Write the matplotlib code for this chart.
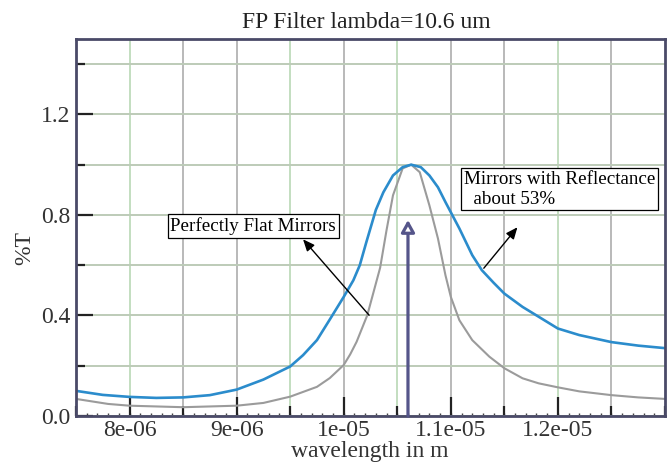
import numpy as np
import matplotlib
matplotlib.use('Agg')
import matplotlib.pyplot as plt
from matplotlib.ticker import FixedLocator, MultipleLocator

plt.rcParams['font.family'] = ['Liberation Serif', 'DejaVu Serif']

# values (wavelength in um, transmission)
wl_blue_um = [7.5, 7.75, 8.0, 8.25, 8.5, 8.75, 9.0, 9.25, 9.5, 9.62, 9.75, 9.87,
              10.0, 10.09, 10.15, 10.21, 10.3, 10.37, 10.46, 10.55, 10.63, 10.72,
              10.8, 10.88, 10.95, 11.08, 11.2, 11.29, 11.4, 11.5, 11.67, 11.82,
              12.0, 12.2, 12.5, 12.75, 13.0]
t_blue = [0.100, 0.084, 0.076, 0.072, 0.074, 0.083, 0.105, 0.145, 0.197, 0.242,
          0.302, 0.384, 0.474, 0.540, 0.600, 0.690, 0.820, 0.890, 0.957, 0.990,
          1.000, 0.990, 0.957, 0.910, 0.851, 0.746, 0.640, 0.580, 0.530, 0.487,
          0.434, 0.395, 0.348, 0.322, 0.294, 0.280, 0.270]

wl_gray_um = [7.5, 7.8, 8.0, 8.5, 9.0, 9.25, 9.5, 9.75, 9.87, 10.0, 10.06, 10.12,
              10.22, 10.34, 10.4, 10.46, 10.55, 10.63, 10.71, 10.8, 10.88, 10.95,
              11.0, 11.08, 11.2, 11.36, 11.5, 11.67, 11.82, 12.0, 12.2, 12.5,
              12.75, 13.0]
t_gray = [0.068, 0.048, 0.041, 0.035, 0.041, 0.052, 0.077, 0.116, 0.151, 0.203,
          0.245, 0.295, 0.401, 0.590, 0.740, 0.878, 0.985, 1.000, 0.970, 0.838,
          0.706, 0.560, 0.474, 0.381, 0.302, 0.236, 0.190, 0.150, 0.130, 0.114,
          0.098, 0.083, 0.074, 0.068]

x_ticks = [8e-6, 9e-6, 1e-5, 1.1e-5, 1.2e-5]
x_ticklabels = ['8e-06', '9e-06', '1e-05', '1.1e-05', '1.2e-05']
y_ticks = [0.0, 0.4, 0.8, 1.2]
y_ticklabels = ['0.0', '0.4', '0.8', '1.2']

center_um = 10.6
center_T = 0.78

um = 1e-6
fig = plt.figure(figsize=(6.7, 4.68), dpi=100)
ax = fig.add_axes([76 / 670, 52 / 468, 589 / 670, 377 / 468])

ax.set_xlim(7.5 * um, 13.0 * um)
ax.set_ylim(0, 1.5)

# grid: vertical lines every 0.5 um, some look green, others grey
green_x = [8.0, 9.5, 10.5, 12.0]
for g in np.arange(8.0, 13.0, 0.5):
    col = '#c3dec0' if g in green_x else '#b9b9b9'
    ax.axvline(g * um, color=col, lw=1.4, zorder=0.5)
ax.grid(axis='y', which='both', color='#bdcbb8', lw=1.4, zorder=0.5)

ax.plot(np.array(wl_gray_um) * um, t_gray, color='#9b9b9b', lw=1.5, zorder=2)
ax.plot(np.array(wl_blue_um) * um, t_blue, color='#2b8ccc', lw=1.9, zorder=2)

# vertical marker at the design wavelength
ax.annotate('', xy=(center_um * um, center_T), xytext=(center_um * um, 0),
            arrowprops=dict(arrowstyle='-|>,head_length=0.36,head_width=0.2',
                            mutation_scale=20, lw=2.3, ec='#55558a', fc='white',
                            shrinkA=0, shrinkB=0), zorder=3)

box = dict(boxstyle='square,pad=0.15', fc='white', ec='black', lw=0.9)
ax.text(8.382 * um, 0.757, 'Perfectly Flat Mirrors', fontsize=13.7,
        ha='left', va='center', bbox=box, zorder=4)
ax.text(11.124 * um, 0.902, 'Mirrors with Reflectance\n  about 53%', fontsize=13.7,
        ha='left', va='center', bbox=box, zorder=4)

arr = dict(arrowstyle='-|>,head_length=0.7,head_width=0.3', mutation_scale=10,
           lw=1.0, color='black', shrinkA=0, shrinkB=0)
ax.annotate('', xy=(9.62 * um, 0.703), xytext=(10.237 * um, 0.401),
            arrowprops=arr, zorder=3)
ax.annotate('', xy=(11.622 * um, 0.751), xytext=(11.308 * um, 0.588),
            arrowprops=arr, zorder=3)

ax.xaxis.set_major_locator(FixedLocator(x_ticks))
ax.set_xticklabels(x_ticklabels)
ax.xaxis.set_minor_locator(MultipleLocator(0.5 * um))
ax.yaxis.set_major_locator(FixedLocator(y_ticks))
ax.set_yticklabels(y_ticklabels)
ax.yaxis.set_minor_locator(MultipleLocator(0.2))

ax.tick_params(which='both', direction='in', color='#222222', width=1.6,
               labelsize=17, labelcolor='#333333')
ax.tick_params(axis='x', which='major', length=13.5, pad=3)
ax.tick_params(axis='x', which='minor', length=7)
ax.tick_params(axis='y', which='major', length=12.5, pad=4)
ax.tick_params(axis='y', which='minor', length=6.5)

# tiny ticks every 0.1 um along the bottom
sec = ax.secondary_xaxis('bottom')
sec.set_xticks(np.arange(7.6, 13.0, 0.1) * um)
sec.tick_params(direction='in', length=2, width=1, color='#444444',
                labelbottom=False)
sec.spines['bottom'].set_visible(False)

for s in ax.spines.values():
    s.set_color('#4a4a68')
    s.set_linewidth(2)

fig.text(366.5 / 670, 1 - 28 / 468, 'FP Filter lambda=10.6 um', fontsize=17,
         ha='center', va='baseline', color='#222222')
fig.text(370 / 670, 1 - 441 / 468, 'wavelength in m', fontsize=17,
         ha='center', va='top', color='#333333')
fig.text(25 / 670, 1 - 248 / 468, '%T', fontsize=17, rotation=90,
         ha='center', va='center', color='#333333')

fig.savefig('out.png', dpi=100)
